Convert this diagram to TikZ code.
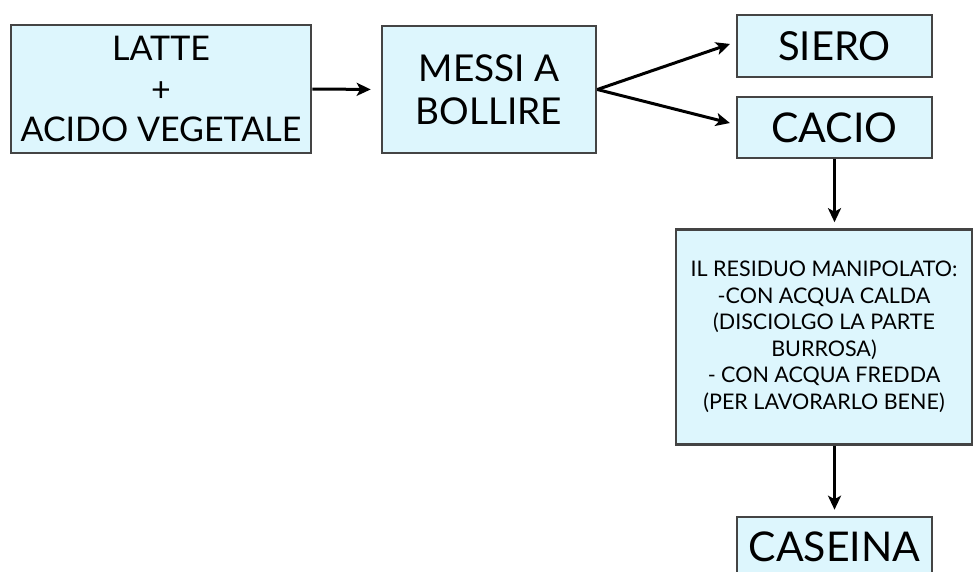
\documentclass[tikz,border=0pt]{standalone}
\usepackage{fontspec}
\setmainfont{Lato}
\usetikzlibrary{arrows.meta}
\definecolor{boxfill}{HTML}{DDF6FD}
\definecolor{boxline}{HTML}{444444}
\begin{document}
\begin{tikzpicture}[x=1pt,y=-1pt,
  box/.style={draw=boxline,fill=boxfill,line width=2.6pt,align=center,inner sep=0pt,anchor=center},
  arr/.style={line width=3pt,-{Stealth[length=14pt,width=13pt,inset=3.5pt]}}]
\useasboundingbox (0,0) rectangle (973,571);
\begin{scope}
\clip (0,0) rectangle (973,571);
\node[box,minimum width=300pt,minimum height=128pt,font=\fontsize{34}{40.5}\selectfont] (lat) at (161,89) {LATTE\\+\\ACIDO VEGETALE};
\node[box,minimum width=214pt,minimum height=127pt,font=\fontsize{37}{43}\selectfont] (mes) at (489,89.5) {MESSI A\\BOLLIRE};
\node[box,minimum width=195pt,minimum height=62pt,font=\fontsize{40}{44}\selectfont] (sie) at (834.5,46) {SIERO};
\node[box,minimum width=195pt,minimum height=61pt,font=\fontsize{41}{44}\selectfont] (cac) at (834.5,127.5) {CACIO};
\node[box,minimum width=296pt,minimum height=215pt,font=\fontsize{21.5}{26.5}\selectfont] (res) at (824,337) {IL RESIDUO MANIPOLATO:\\-CON ACQUA CALDA\\(DISCIOLGO LA PARTE\\BURROSA)\\- CON ACQUA FREDDA\\(PER LAVORARLO BENE)};
\node[box,minimum width=195pt,minimum height=76pt] (cas) at (834.5,555) {};
\end{scope}
\node[anchor=base,inner sep=0pt,font=\fontsize{41}{44}\selectfont] (castext) at (834.5,561) {CASEINA};
\draw[arr,shorten >=10pt] (lat.east) -- (mes.west);
\draw[arr,shorten >=6pt] (mes.east) -- ([yshift=4pt]sie.west);
\draw[arr,shorten >=6pt] (mes.east) -- ([yshift=3pt]cac.west);
\draw[arr,shorten >=6pt] (cac.south) -- (cac.south |- res.north);
\draw[arr,shorten >=6pt] (cac.south |- res.south) -- (cas.north);
\end{tikzpicture}
\end{document}
